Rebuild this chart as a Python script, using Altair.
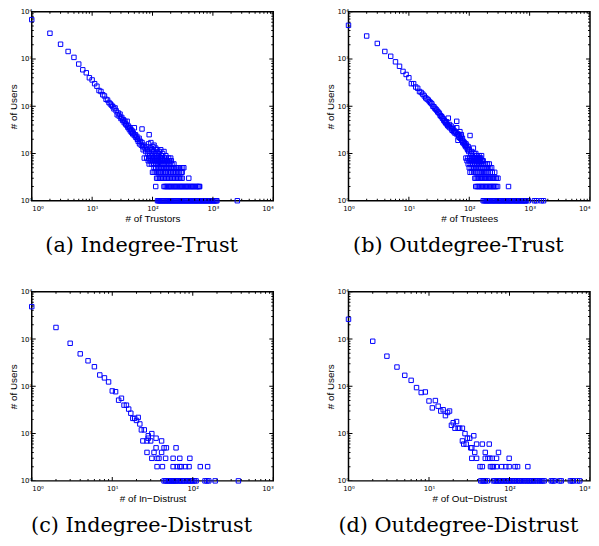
import altair as alt
import pandas as pd

# ---------------- data ----------------
A_PTS = [(1,6800),(2,3500),(3,2050),(4,1440),(5,1080),(6,780),(7,590),(8,510),(9,400),(10,360),
         (11,300),(12,265),(13,215),(14,205),(15,175),(16,165),(17,140),(18,135),(19,120),(20,112),
         (21,105),(22,98),(23,88),(24,92),(25,80),(26,66),(27,72),(28,62),(29,68),(30,55),(31,58),
         (32,50),(33,52),(34,45),(35,48),(36,42),(37,40),(38,48),(39,36),(40,38),(41,33),(42,35),
         (43,30),(44,32),(45,28),(46,30),(47,26),(48,27),(50,35),(50,24),(52,25),(53,22),(55,23),
         (56,20),(57,20),(58,18),(60,21),(61,16),(63,18),(65,15),(67,33),(67,17),(69,14),(70,12),
         (72,15),(75,13),(77,11),(80,14),(82,12),(84,10),(86,16),(88,25),(88,11),(90,9),(92,13),
         (94,17),(96,10),(98,12),(100,9),(102,14),(104,11),(106,15),(110,10),(113,13),(116,9),
         (118,11),(121,12),(125,10),(128,9),(130,11),(137,12),(142,9),(147,10),(155,11),(166,9)]
A_ROWS = {
    8: [73,80,88,95,102,110,118,125,135,145,158,170,185,200],
    7: [85,92,100,108,116,124,133,142,152,162,175,190,205],
    6: [88,96,104,112,120,128,137,147,157,168,180,195,210,226],
    5: [106,113,121,129,137,146,156,166,177,189,201,214,228,243,259,276,294,315,330],
    4: [100,107,115,123,131,140,149,159,169,180,192,204,217,231,246,262,279,297,310],
    3: [117,124,132,140,148,157,166,176,186,197,209,221,234,248,262,277,293,310,399],
    2: [113,155,162,170,178,186,195,204,214,224,235,246,258,270,283,296,310,325,340,356,373,
        391,410,430,450,471,494,517,542,568,595,604],
    1: [121,126,131,137,143,149,155,162,169,176,183,191,199,207,216,225,235,245,256,267,278,
        290,302,315,329,343,358,373,389,406,424,442,461,481,502,524,547,571,596,622,649,677,
        706,737,769,802,837,873,911,951,992,1035,1080,1127,1165,2540],
}

B_PTS = [(1,5150),(2,3060),(3,2130),(4,1440),(5,1140),(6,870),(7,700),(8,545),(9,470),(10,400),
         (11,300),(12,300),(13,255),(14,240),(15,205),(16,195),(17,180),(18,165),(19,150),(20,142),
         (21,135),(22,125),(23,118),(24,112),(25,100),(26,97),(27,90),(28,86),(29,82),(30,76),
         (31,74),(32,70),(33,64),(34,62),(35,60),(36,56),(37,54),(38,50),(39,49),(40,46),(41,44),
         (42,47),(43,41),(44,39),(45,56),(46,37),(47,41),(48,35),(50,38),(51,33),(52,31),(54,34),
         (55,29),(57,30),(58,27),(60,28),(62,48),(62,35),(63,25),(65,19),(65,26),(67,24),(68,22),
         (70,29),(71,21),(73,23),(74,25),(75,19),(77,21),(78,17),(80,18),(82,16),(83,17),(85,15),
         (87,14),(88,16),(90,15),(92,13),(94,12),(96,14),(98,11),(100,12),(103,24),(106,10),
         (110,11),(113,9),(117,13),(120,10),(124,8),(128,10),(132,9),(136,7),(140,8),(145,9),
         (150,8),(155,7),(160,9),(170,7)]
B_ROWS = {
    8: [88,95,102,110,118,126,135,145,155],
    7: [92,100,108,116,125,134,144,154,165],
    6: [96,104,112,121,130,140,150,161,173,186,200,215],
    5: [100,108,116,125,134,144,155,166,178,191,205,220,235],
    4: [103,111,119,128,137,147,158,169,181,194,208,223,240,264],
    3: [124,130,137,144,152,160,168,177,186,196,206,217,228,240,252,265,280,299],
    2: [128,135,142,150,158,166,175,184,194,204,215,226,238,250,263,277,295,447],
    1: [170,178,186,195,204,214,224,235,246,258,270,283,296,310,325,340,356,373,391,410,430,
        450,471,494,517,542,568,595,622,650,680,712,745,780,815,850,870,950,1200,1300,1560,1700],
}

C_PTS = [(1,4850),(2,1760),(3,815),(4,487),(5,347),(6,260),(7,174),(8,151),(9,124),(10,80),
         (11,77),(12,51),(13,56),(14,40),(15,40),(16,33),(17,27),(18,21),(19,21),(20,19),(21,22),
         (22,16),(23,12),(25,12),(28,9),(28,8),(31,10),(35,8),(24,7),(27,7),(30,7),(41,7),
         (35,5),(44,5),(47,5),(62,5)]
C_ROWS = {
    4: [27,33,41],
    3: [31,36,38,46,57,69,92],
    2: [36,42,57,64,69,72,81,90,124,153],
    1: [44,46,48,50,52,54,56,58,60,62,65,68,71,74,77,80,84,88,92,96,100,105,110,142,150,158,190,369],
}

D_PTS = [(1,2630),(2,900),(3,435),(4,256),(5,171),(6,134),(7,94),(8,74),(9,76),(10,49),
         (11,35),(12,50),(13,38),(14,30),(15,32),(16,24),(17,28),(18,30),(19,15),(20,17),(21,13),
         (22,18),(23,13),(24,13),(26,13),(28,10),(26,7),(27,6),(29,6),(30,8),(32,8),(36,9),
         (33,5),(34,5),(39,6),(46,6),(56,6)]
D_ROWS = {
    4: [37,50,73],
    3: [34,39,50,54,57,61,69,99],
    2: [43,46,58,61,63,69,80,90,99,117,126,169],
    1: [44,46,48,50,53,63,66,69,72,75,78,82,86,90,94,98,103,108,113,118,124,130,136,143,150,
        158,166,174,182,191,200,210,222,234,246,258,270,330,345,360,420,440,570,600,620,700,745],
}

# (x title, caption, points, rows, x max, right-hand panel?)
PANELS = [
    ("# of Trustors", "(a) Indegree-Trust", A_PTS, A_ROWS, 10000, False),
    ("# of Trustees", "(b) Outdegree-Trust", B_PTS, B_ROWS, 10000, True),
    ("# of In\u2212Distrust", "(c) Indegree-Distrust", C_PTS, C_ROWS, 1000, False),
    ("# of Out\u2212Distrust", "(d) Outdegree-Distrust", D_PTS, D_ROWS, 1000, True),
]

W, H = 244, 191
BLUE = "#0000ff"
LABEL_EXPR = "'10' + ['\u2070','\u00b9','\u00b2','\u00b3','\u2074'][round(log(datum.value)/LN10)]"


def tick_table(xmax):
    rows = []
    k = 1
    while k <= xmax:
        rows.append({"v": k, "s": 8})
        if k < xmax:
            for m in range(2, 10):
                rows.append({"v": m * k, "s": 4})
        k *= 10
    return pd.DataFrame(rows)


def panel(xtitle, caption, pts, rows, xmax, right):
    recs = [{"x": x, "y": y} for x, y in pts]
    for cnt, xs_ in rows.items():
        recs += [{"x": x, "y": cnt} for x in xs_]
    df = pd.DataFrame(recs)

    xs = alt.Scale(type="log", domain=[1, xmax], nice=False)
    ys = alt.Scale(type="log", domain=[1, 10000], nice=False)
    xvals = [v for v in [1, 10, 100, 1000, 10000] if v <= xmax]
    common = dict(labelExpr=LABEL_EXPR, grid=False, domain=False, ticks=False)
    xextra = {}
    if right:
        xextra["labelAlign"] = {
            "condition": {"test": f"datum.value >= {xmax}", "value": "right"},
            "value": "center",
        }
    xax = alt.Axis(values=xvals, title=xtitle, minExtent=11, maxExtent=11,
                   titlePadding=2, labelPadding=4, **common, **xextra)
    yax = alt.Axis(values=[1, 10, 100, 1000, 10000], title="# of Users",
                   minExtent=12, maxExtent=12, titlePadding=1, labelPadding=0, **common)

    pts_layer = alt.Chart(df).mark_point(
        shape="square", filled=False, color=BLUE, size=20, strokeWidth=1, opacity=1
    ).encode(
        x=alt.X("x:Q", scale=xs, axis=xax),
        y=alt.Y("y:Q", scale=ys, axis=yax),
    )

    xt = tick_table(xmax)
    yt = tick_table(10000)
    tk = dict(clip=True, color="black", thickness=1, opacity=1)
    xb = alt.Chart(xt).mark_tick(**tk).encode(
        x=alt.X("v:Q", scale=xs, axis=xax), y=alt.value(H), size=alt.Size("s:Q", scale=None))
    xtp = alt.Chart(xt).mark_tick(**tk).encode(
        x=alt.X("v:Q", scale=xs, axis=xax), y=alt.value(0), size=alt.Size("s:Q", scale=None))
    yl = alt.Chart(yt).mark_tick(**tk).encode(
        y=alt.Y("v:Q", scale=ys, axis=yax), x=alt.value(0), size=alt.Size("s:Q", scale=None))
    yr = alt.Chart(yt).mark_tick(**tk).encode(
        y=alt.Y("v:Q", scale=ys, axis=yax), x=alt.value(W), size=alt.Size("s:Q", scale=None))

    return alt.layer(pts_layer, xb, xtp, yl, yr).properties(
        width=W, height=H,
        view=alt.ViewConfig(stroke="black", strokeWidth=1.5),
        title=alt.TitleParams(
            text=caption, orient="bottom", anchor="middle", frame="group", dx=-11,
            offset=12, font="DejaVu Serif", fontSize=21, fontWeight="normal", color="black",
        ),
    )


charts = [panel(*p) for p in PANELS]

chart = alt.concat(
    *charts, columns=2, bounds="flush", spacing={"row": 92, "column": 76}
).properties(
    padding={"left": 0, "top": -4, "right": 0, "bottom": 0},
    background="white",
).configure_view(
    stroke="black", strokeWidth=1.5
).configure_axis(
    domain=False, ticks=False, tickSize=0, grid=False,
    labelFont="DejaVu Sans", labelFontSize=7, labelColor="black",
    titleFont="Liberation Sans", titleFontSize=10, titleFontWeight="normal",
    titleColor="black",
)

chart.save("out.html", embed_options={"renderer": "svg", "actions": False})
